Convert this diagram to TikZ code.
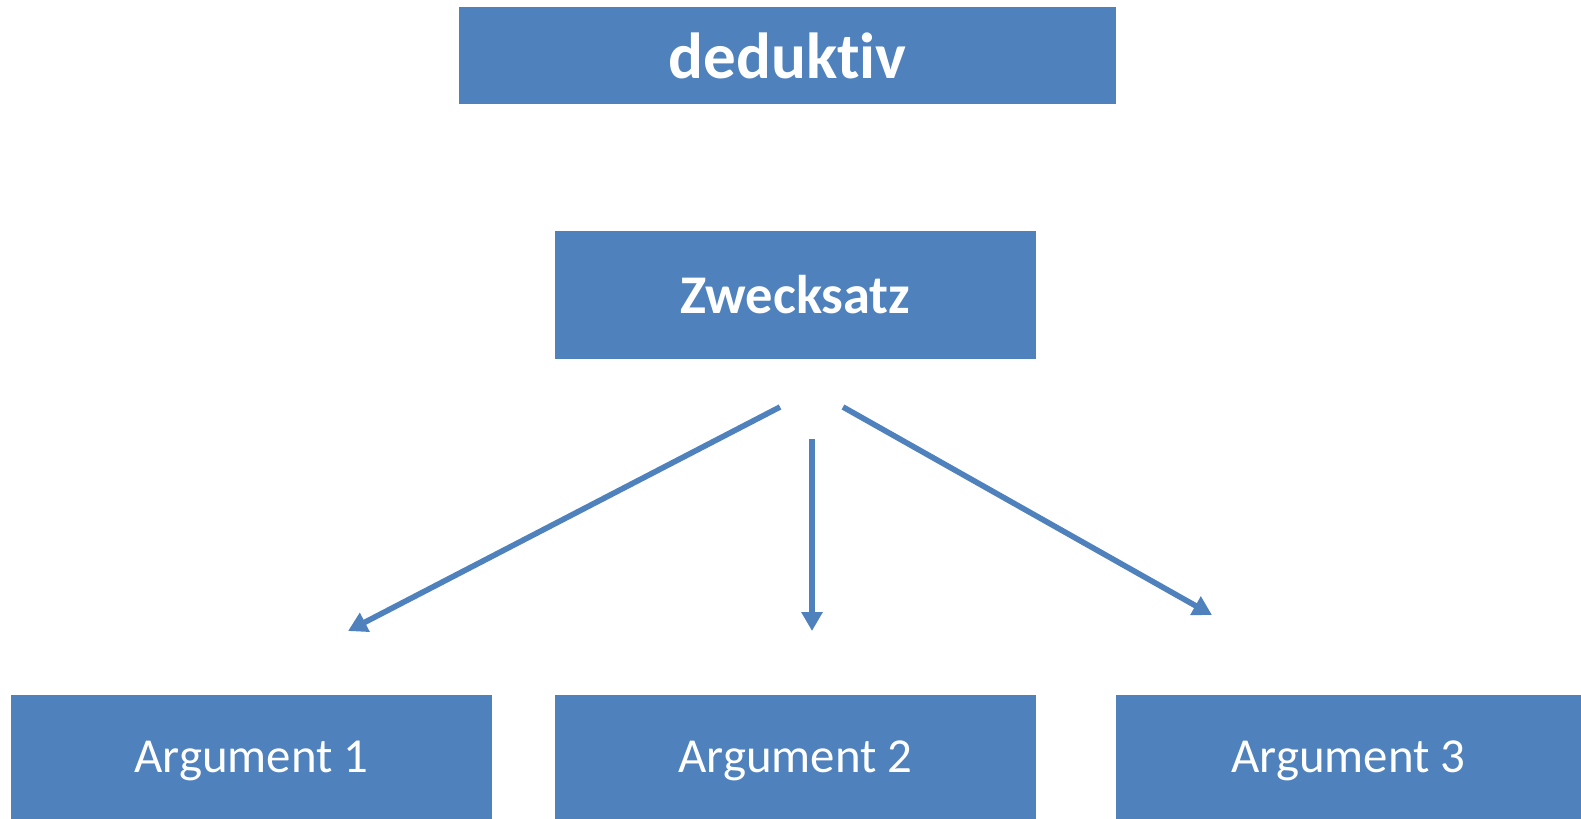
\documentclass[tikz,border=0pt]{standalone}
\usepackage{fontspec}
\setmainfont{Carlito}[Ligatures=NoCommon]
\usepackage{tikz}
\usetikzlibrary{arrows.meta}
\definecolor{boxblue}{HTML}{4F81BD}

\begin{document}
\begin{tikzpicture}[x=0.01cm, y=-0.01cm,
        blaubox/.style={fill=boxblue, draw=none, inner sep=0pt, text=white},
        argbox/.style={blaubox, minimum height=1.24cm, text depth=0pt, font=\fontsize{13.9}{16}\selectfont},
        pfeil/.style={draw=boxblue, line width=1.6pt, -{Triangle[length=5.4pt, width=5.8pt]}}]
        \useasboundingbox (0,0) rectangle (1581,819);                             %
        \node [blaubox, minimum width=6.57cm, minimum height=0.97cm,
               font=\fontsize{18.5}{20}\selectfont\bfseries] (ded) at (787.5,55.5) {dedukt\kern0pt iv};  %Titel
        \node [blaubox, minimum width=4.81cm, minimum height=1.28cm,
               font=\fontsize{15.5}{18}\selectfont\bfseries] (zweck) at (795.5,295) {Zwecksatz};%
        \node [argbox, minimum width=4.81cm] (arg1) at (251.5,757)  {Argument 1};  %
        \node [argbox, minimum width=4.81cm] (arg2) at (795.5,757)  {Argument 2};  %
        \node [argbox, minimum width=4.65cm] (arg3) at (1348.5,757) {Argument 3};  %
        \coordinate (l1) at (780,407);   \coordinate (l2) at (348,631);            %links
        \coordinate (m1) at (812,439);   \coordinate (m2) at (812,631);            %mitte
        \coordinate (r1) at (843,407);   \coordinate (r2) at (1212,615);           %rechts
        \draw [pfeil] (l1) -- (l2);                                                %
        \draw [pfeil] (m1) -- (m2);                                                %
        \draw [pfeil] (r1) -- (r2);                                                %
\end{tikzpicture}
\end{document}
